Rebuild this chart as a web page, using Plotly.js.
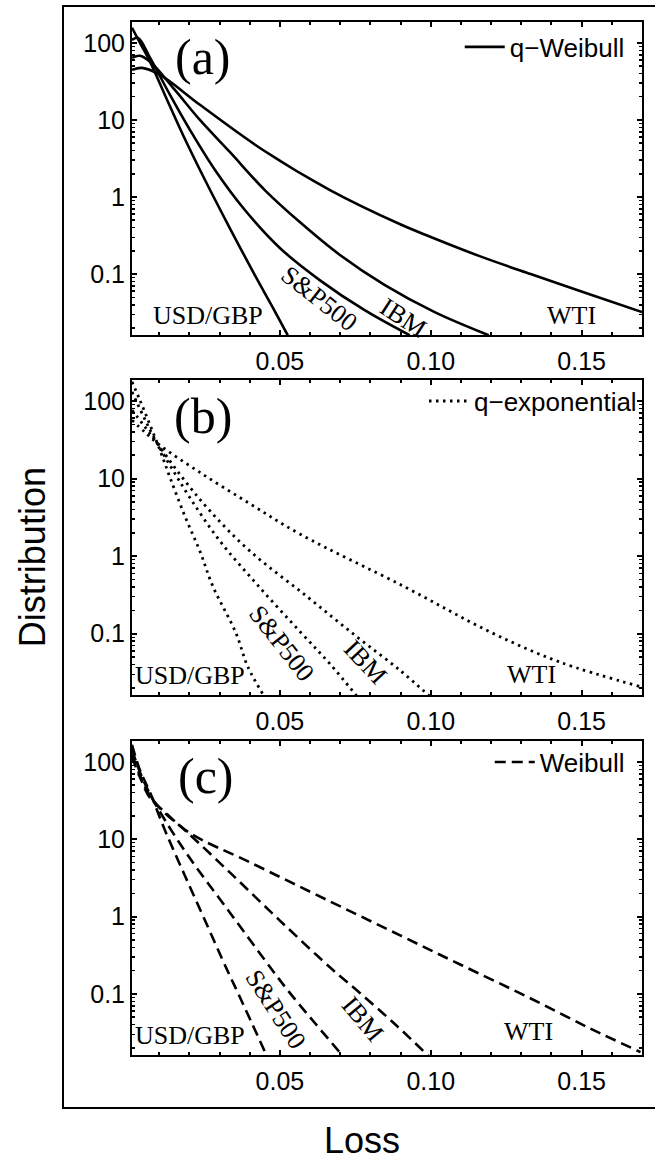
<!DOCTYPE html>
<html><head><meta charset="utf-8">
<script src="https://cdn.plot.ly/plotly-3.0.1.min.js"></script>
<style>body{margin:0;background:#fff}#chart{width:655px;height:1163px}</style>
</head><body><div id="chart"></div>
<script>
// ---- data ----
const seriesNames = ['USD/GBP', 'S&P500', 'IBM', 'WTI'];
const legendNames = ['q\u2212Weibull', 'q\u2212exponential', 'Weibull'];
const panelLabels = ['(a)', '(b)', '(c)'];
const xTickVals = [0.05, 0.10, 0.15];
const xTickText = ['0.05', '0.10', '0.15'];
const yTickVals = [0.1, 1, 10, 100];
const yTickText = ['0.1', '1', '10', '100'];

// (a) q-Weibull
const aUsdX = [0.001, 0.004, 0.007, 0.0119, 0.0179, 0.0252, 0.0334, 0.0417, 0.0474, 0.0526];
const aUsdY = [156.7, 94.2, 56.6, 21.1, 6.38, 1.66, 0.395, 0.097, 0.0384, 0.0161];
const aSpX = [0.001, 0.003, 0.007, 0.0136, 0.0202, 0.0285, 0.0384, 0.05, 0.0632, 0.0781, 0.093];
const aSpY = [109, 116, 63.8, 21.1, 7.41, 2.24, 0.678, 0.218, 0.0836, 0.034, 0.0161];
const aIbmX = [0.001, 0.0036, 0.007, 0.0152, 0.0235, 0.0334, 0.045, 0.0566, 0.0699, 0.0848, 0.1013, 0.1192];
const aIbmY = [63.8, 67.8, 56.6, 24.5, 10.0, 3.84, 1.23, 0.473, 0.177, 0.0719, 0.0321, 0.0161];
const aWtiX = [0.001, 0.0043, 0.0103, 0.0235, 0.0444, 0.0666, 0.0897, 0.1, 0.1162, 0.1331, 0.1526, 0.17];
const aWtiY = [44.6, 47.3, 38.4, 15.7, 4.07, 1.23, 0.446, 0.303, 0.171, 0.100, 0.0549, 0.0321];

// (b) q-exponential
const bUsdX = [0.001, 0.0036, 0.007, 0.0103, 0.0136, 0.0185, 0.0235, 0.0278, 0.0354, 0.0394, 0.045];
const bUsdY = [177, 103, 48.8, 23.1, 10.3, 3.30, 1.16, 0.407, 0.103, 0.0373, 0.0152];
const bSpX = [0.001, 0.0046, 0.0079, 0.0136, 0.0202, 0.0301, 0.043, 0.057, 0.0666, 0.0758];
const bSpY = [131, 65.8, 36.1, 14.8, 5.66, 1.57, 0.407, 0.103, 0.0408, 0.0152];
const bIbmX = [0.001, 0.0046, 0.0086, 0.0169, 0.0268, 0.0401, 0.0589, 0.0755, 0.0897, 0.1];
const bIbmY = [76.4, 50.2, 31.2, 11.3, 3.84, 1.16, 0.303, 0.0914, 0.034, 0.0152];
const bWtiX = [0.001, 0.0053, 0.0103, 0.0235, 0.0401, 0.0566, 0.0911, 0.1202, 0.1427, 0.17];
const bWtiY = [56.6, 39.5, 26.8, 12.0, 4.73, 1.93, 0.407, 0.103, 0.0432, 0.0205];

// (c) Weibull
const cUsdX = [0.001, 0.0036, 0.007, 0.0119, 0.0185, 0.0252, 0.0325, 0.0361, 0.0407, 0.0457];
const cUsdY = [166, 78.7, 40, 13.1, 3.40, 0.887, 0.205, 0.103, 0.042, 0.0157];
const cSpX = [0.001, 0.0036, 0.007, 0.0119, 0.0202, 0.0334, 0.0474, 0.0533, 0.0616, 0.0709];
const cSpY = [143, 74.2, 38, 17.7, 5.66, 1.13, 0.205, 0.103, 0.042, 0.0157];
const cIbmX = [0.001, 0.0036, 0.007, 0.0119, 0.0185, 0.0334, 0.05, 0.0675, 0.0765, 0.0881, 0.0993];
const cIbmY = [123, 67.8, 36, 21.8, 13.1, 3.72, 0.887, 0.205, 0.103, 0.0408, 0.0157];
const cWtiX = [0.001, 0.0036, 0.007, 0.0119, 0.0202, 0.0401, 0.0666, 0.0897, 0.1106, 0.1321, 0.1526, 0.1695];
const cWtiY = [116, 63.8, 34, 22.4, 12.0, 5.02, 1.57, 0.575, 0.231, 0.0914, 0.0361, 0.0177];

// ---- build ----
const panels = [
  {xs: [aUsdX, aSpX, aIbmX, aWtiX], ys: [aUsdY, aSpY, aIbmY, aWtiY], dash: 'solid', w: 2.6},
  {xs: [bUsdX, bSpX, bIbmX, bWtiX], ys: [bUsdY, bSpY, bIbmY, bWtiY], dash: '2.5px,4.5px', w: 2.8},
  {xs: [cUsdX, cSpX, cIbmX, cWtiX], ys: [cUsdY, cSpY, cIbmY, cWtiY], dash: '11px,6px', w: 2.6}
];
const traces = [];
panels.forEach((p, i) => {
  const ax = i === 0 ? '' : String(i + 1);
  p.xs.forEach((xv, k) => {
    traces.push({
      x: xv, y: p.ys[k], type: 'scatter', mode: 'lines',
      name: legendNames[i], legend: 'legend' + ax,
      showlegend: k === 0,
      xaxis: 'x' + ax, yaxis: 'y' + ax,
      line: {color: '#000', width: p.w, dash: p.dash, shape: 'spline', smoothing: 1},
      hoverinfo: 'skip'
    });
  });
});

const minorY = [];
for (let d = -2; d <= 2; d++) for (let m = 2; m <= 9; m++) minorY.push(m * Math.pow(10, d));

const tickFont = {family: 'Liberation Sans, Arial, sans-serif', size: 25, color: '#000'};
const domains = [[0.697, 1.0], [0.3485, 0.6534], [0, 0.304]];
const layout = {
  width: 655, height: 1163,
  margin: {l: 132, r: 13, t: 22, b: 108},
  paper_bgcolor: '#fff', plot_bgcolor: '#fff',
  showlegend: true,
  annotations: [], shapes: []
};
domains.forEach((dom, i) => {
  const ax = i === 0 ? '' : String(i + 1);
  layout['xaxis' + ax] = {
    domain: [0, 1], anchor: 'y' + ax, range: [0.001, 0.17],
    tickmode: 'array', tickvals: xTickVals, ticktext: xTickText,
    ticks: 'inside', ticklen: 5, tickwidth: 2, tickcolor: '#000',
    minor: {ticks: 'inside', ticklen: 3, tickwidth: 2, tickcolor: '#000', dtick: 0.01, tick0: 0, showgrid: false},
    showline: true, linewidth: 2, linecolor: '#000', mirror: 'allticks',
    showgrid: false, zeroline: false, tickfont: tickFont, ticklabelstandoff: 3
  };
  layout['yaxis' + ax] = {
    domain: dom, anchor: 'x' + ax, type: 'log', range: [-1.79, 2.27],
    tickmode: 'array', tickvals: yTickVals, ticktext: yTickText,
    ticks: 'inside', ticklen: 5, tickwidth: 2, tickcolor: '#000',
    minor: {ticks: 'inside', ticklen: 3, tickwidth: 1.5, tickcolor: '#000', tickmode: 'array', tickvals: minorY, showgrid: false},
    showline: true, linewidth: 2, linecolor: '#000', mirror: 'allticks',
    showgrid: false, zeroline: false, tickfont: tickFont
  };
});

const legendPos = [
  {x: 0.976, y: 0.9758},
  {x: 1.0, y: 0.633},
  {x: 0.976, y: 0.2836}
];
legendPos.forEach((lp, i) => {
  const key = i === 0 ? 'legend' : 'legend' + (i + 1);
  layout[key] = {
    x: lp.x, y: lp.y, xanchor: 'right', yanchor: 'middle',
    bgcolor: 'rgba(0,0,0,0)', borderwidth: 0,
    font: {family: 'Liberation Sans, Arial, sans-serif', size: 26, color: '#000'},
    itemwidth: 40
  };
});

const serif = 'Liberation Serif, Times New Roman, serif';
const labelPos = [
  [0.139, 0.966], [0.139, 0.6187], [0.145, 0.2702]
];
labelPos.forEach((lp, i) => {
  layout.annotations.push({xref: 'paper', yref: 'paper', x: lp[0], y: lp[1], text: panelLabels[i],
    showarrow: false, xanchor: 'center', yanchor: 'middle', font: {family: serif, size: 50, color: '#000'}});
});
const curveLabelPos = [
  [[0.149, 0.7154, 0], [0.3667, 0.7319, 38], [0.5314, 0.7144, 33], [0.8627, 0.7154, 0]],
  [[0.1137, 0.3669, 0], [0.2941, 0.3988, 52], [0.4588, 0.3804, 47], [0.7843, 0.3679, 0]],
  [[0.1137, 0.0184, 0], [0.2824, 0.0445, 57], [0.451, 0.0349, 50], [0.7765, 0.0223, 0]]
];
curveLabelPos.forEach(row => row.forEach((c, k) => {
  layout.annotations.push({xref: 'paper', yref: 'paper', x: c[0], y: c[1], text: seriesNames[k],
    textangle: c[2], showarrow: false, xanchor: 'center', yanchor: 'middle',
    font: {family: serif, size: 26, color: '#000'}});
}));
layout.annotations.push({xref: 'paper', yref: 'paper', x: -0.196, y: 0.482, text: 'Distribution',
  textangle: -90, showarrow: false, xanchor: 'center', yanchor: 'middle',
  font: {family: 'Liberation Sans, Arial, sans-serif', size: 36, color: '#000'}});
layout.annotations.push({xref: 'paper', yref: 'paper', x: 0.451, y: -0.0823, text: 'Loss',
  showarrow: false, xanchor: 'center', yanchor: 'middle',
  font: {family: 'Liberation Sans, Arial, sans-serif', size: 36, color: '#000'}});
layout.shapes.push({type: 'rect', xref: 'paper', yref: 'paper', x0: -0.1353, x1: 1.12, y0: -0.0513, y1: 1.0155,
  line: {color: '#000', width: 2}, fillcolor: 'rgba(0,0,0,0)'});

Plotly.newPlot('chart', traces, layout, {staticPlot: true, displayModeBar: false});
</script>
</body></html>
